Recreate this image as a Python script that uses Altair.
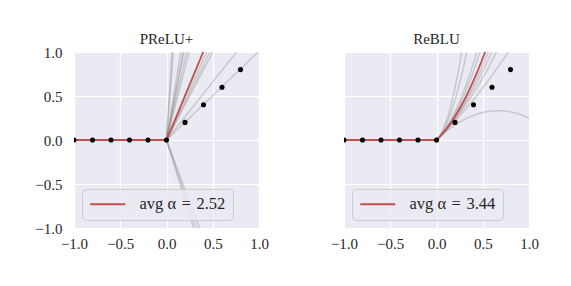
import altair as alt
import pandas as pd
import numpy as np

# ---- data ----
point_x = [-1.0, -0.8, -0.6, -0.4, -0.2, 0.0, 0.2, 0.4, 0.6, 0.8]
point_y = [0.0, 0.0, 0.0, 0.0, 0.0, 0.0, 0.2, 0.4, 0.6, 0.8]

prelu_slopes = [17.0, 13.6, 6.5, 5.6, 5.3, 4.6, 4.1, 2.3, 2.13, 2.0, 1.32, 1.01, -2.8, -3.1, -3.4]
prelu_avg = 2.52

reblu_alphas = [19.7, 12.7, 5.97, 4.8, 2.8, 2.26, 1.66, 0.744, -1.5]
reblu_avg = 3.44

tick_values = [-1.0, -0.5, 0.0, 0.5, 1.0]

FONT = "Liberation Serif"
BG = "#EAEAF2"
RED = "#C44E52"
TXT = "#262626"


def prelu(x, a):
    return np.where(x > 0, a * x, 0.0)


def reblu(x, a):
    return np.where(x > 0, x + 0.5 * a * x * x, 0.0)


def curve_rows(fn, params, xs):
    rows = []
    for i, a in enumerate(params):
        for x in xs:
            rows.append({"id": i, "x": float(x), "y": float(fn(np.array(x), a))})
    return pd.DataFrame(rows)


xs_lin = [-1.0, 0.0, 1.0]
xs_curve = [-1.0] + list(np.linspace(0, 1, 201))

points_df = pd.DataFrame({"x": point_x, "y": point_y})

LABEL_EXPR = "replace(format(datum.value, '.1f'), '-', '\u2212')"


def xenc():
    return alt.X(
        "x:Q",
        scale=alt.Scale(domain=[-1, 1], nice=False, zero=False),
        axis=alt.Axis(values=tick_values, title=None, labelFlush=False,
                      labelPadding=8, labelExpr=LABEL_EXPR),
    )


def yenc(show_labels):
    return alt.Y(
        "y:Q",
        scale=alt.Scale(domain=[-1, 1], nice=False, zero=False),
        axis=alt.Axis(values=tick_values, title=None,
                      labelOpacity=1 if show_labels else 0,
                      labelFlush=False, labelPadding=12, labelExpr=LABEL_EXPR),
    )


def panel(title, fn, params, avg, xs, show_y):
    gray_df = curve_rows(fn, params, xs)
    red_df = curve_rows(fn, [avg], xs)
    red_df["label"] = f"avg \u03b1\u2004=\u2004{avg:.2f}"

    gray = alt.Chart(gray_df).mark_line(
        clip=True, color="#808080", opacity=0.32, strokeWidth=1.5
    ).encode(x=xenc(), y=yenc(show_y), detail="id:N", order="x:Q")

    red = alt.Chart(red_df).mark_line(clip=True, strokeWidth=1.8).encode(
        x=xenc(),
        y=yenc(show_y),
        order="x:Q",
        color=alt.Color(
            "label:N",
            scale=alt.Scale(range=[RED]),
            legend=alt.Legend(
                title=None,
                orient="bottom-left",
                offset=8,
                padding=7,
                fillColor="rgba(234,234,242,0.8)",
                strokeColor="#CCCCCC",
                cornerRadius=4,
                symbolType="M-1,0H4",
                symbolSize=196,
                symbolStrokeWidth=2,
                labelFont=FONT,
                labelFontSize=16.5,
                labelColor=TXT,
                labelOffset=34,
            ),
        ),
    )

    pts = alt.Chart(points_df).mark_circle(
        clip=True, color="black", size=26, opacity=1
    ).encode(x=xenc(), y=yenc(show_y))

    return alt.layer(gray, red, pts).properties(
        width=185,
        height=176,
        title=alt.TitleParams(title, font=FONT, fontSize=15, fontWeight="normal",
                              color=TXT, offset=-2, frame="group"),
    )


left = panel("PReLU+", prelu, prelu_slopes, prelu_avg, xs_lin, True)
right = panel("ReBLU", reblu, reblu_alphas, reblu_avg, xs_curve, False)

chart = (
    alt.hconcat(left, right, spacing=85, bounds="flush")
    .resolve_scale(color="independent")
    .resolve_legend(color="independent")
    .properties(padding={"left": 26, "top": 24, "right": 5, "bottom": 5})
    .configure_view(fill=BG, stroke=None)
    .configure_axis(
        domain=False,
        ticks=False,
        grid=True,
        gridColor="white",
        gridWidth=1.2,
        labelFont=FONT,
        labelFontSize=15,
        labelColor=TXT,
    )
)

chart.save("out.html", embed_options={"renderer": "svg", "actions": False})
